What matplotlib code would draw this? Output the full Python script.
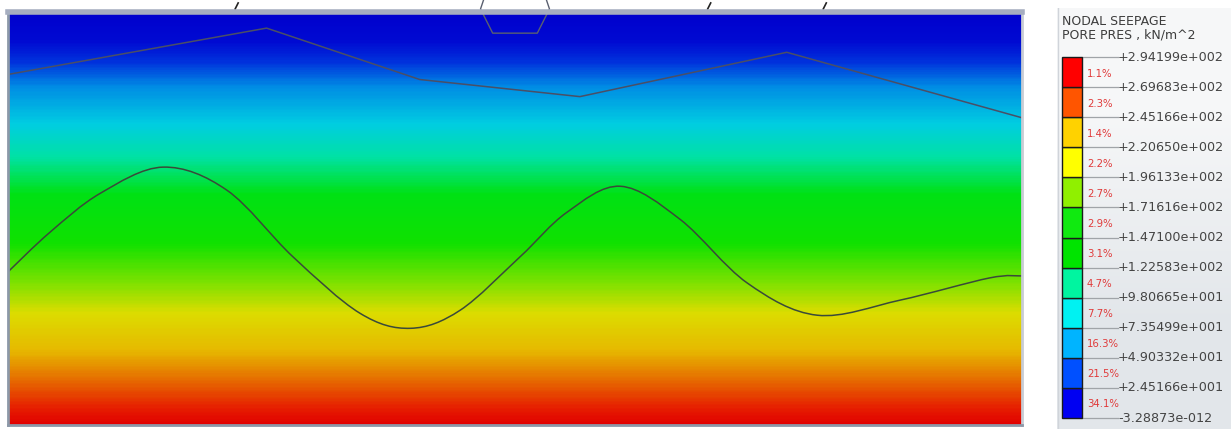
import numpy as np
import matplotlib
matplotlib.use("Agg")
import matplotlib.pyplot as plt
from matplotlib.colors import LinearSegmentedColormap
from matplotlib.path import Path
from matplotlib.patches import PathPatch

# --- datos ---
# perfil de presion de poro (kN/m^2) vs elevacion (m), campo horizontal
elev_profile = [0.0, 10.0, 20.0, 30.0, 41.0]
pres_profile = [294.2, 222.4, 150.7, 78.9, 0.0]

# limite superior (poligonal) x, elevacion
upper_x = [0.0, 25.5, 40.6, 56.4, 76.8, 100.0]
upper_e = [34.8, 39.4, 34.3, 32.6, 37.0, 30.5]

# limite ondulado
wave_x = [0.0, 4.1, 9.1, 15.3, 21.6, 28.1, 34.7, 39.7, 44.6, 50.5, 55.1, 60.4,
          66.3, 72.9, 79.8, 88.0, 96.8, 100.0]
wave_e = [15.2, 19.1, 23.0, 25.6, 23.3, 16.7, 11.1, 9.6, 11.4, 16.7, 21.1, 23.7,
          20.4, 14.1, 10.9, 12.4, 14.6, 14.8]

# pieza en la parte superior
notch_x = [46.9, 46.6, 47.8, 52.2, 53.4, 53.1]
notch_e = [42.2, 41.3, 38.9, 38.9, 41.3, 42.2]

# leyenda
level_labels = ["-3.28873e-012", "+2.45166e+001", "+4.90332e+001", "+7.35499e+001",
                "+9.80665e+001", "+1.22583e+002", "+1.47100e+002", "+1.71616e+002",
                "+1.96133e+002", "+2.20650e+002", "+2.45166e+002", "+2.69683e+002",
                "+2.94199e+002"]
band_pct = ["34.1%", "21.5%", "16.3%", "7.7%", "4.7%", "3.1%", "2.9%", "2.7%",
            "2.2%", "1.4%", "2.3%", "1.1%"]
band_colors = ["#0000F2", "#0050FF", "#00B4FF", "#00F2F2", "#00F5A0", "#00E400",
               "#10EA10", "#90F000", "#FFFF00", "#FFD200", "#FF5500", "#FF0000"]

# colores del campo (suavizado, algo mas oscuro que la leyenda)
field_nodes = [(0.00, (0, 0, 205)), (0.07, (0, 10, 210)), (0.12, (0, 50, 220)),
               (0.18, (0, 140, 228)), (0.27, (0, 205, 225)), (0.35, (0, 225, 165)),
               (0.44, (0, 225, 20)), (0.56, (15, 225, 0)), (0.66, (130, 225, 0)),
               (0.73, (220, 220, 0)), (0.82, (230, 185, 0)), (0.89, (230, 110, 0)),
               (0.96, (230, 30, 0)), (1.00, (225, 0, 0))]
field_cmap = LinearSegmentedColormap.from_list(
    "campo", [(f, tuple(c / 255 for c in rgb)) for f, rgb in field_nodes])


def smooth_path(xs, ys):
    """Curva suave (Bezier) que pasa por los puntos leidos."""
    pts = np.column_stack([xs, ys])
    n = len(pts)
    verts = [pts[0]]
    codes = [Path.MOVETO]
    for i in range(n - 1):
        p0 = pts[max(i - 1, 0)]
        p1 = pts[i]
        p2 = pts[i + 1]
        p3 = pts[min(i + 2, n - 1)]
        verts += [p1 + (p2 - p0) / 6, p2 - (p3 - p1) / 6, p2]
        codes += [Path.CURVE4] * 3
    return Path(verts, codes)


W, H = 1231, 429
fig = plt.figure(figsize=(W / 100, H / 100), dpi=100)

# --- dominio principal ---
ax = fig.add_axes([8 / W, (H - 425) / H, 1014 / W, 413 / H])
P = np.outer(pres_profile, [1.0, 1.0])
ax.contourf([0.0, 100.0], elev_profile, P, levels=300, cmap=field_cmap,
            vmin=0, vmax=294.2)
ax.plot(upper_x, upper_e, color="#4a4f66", lw=1.1)
ax.add_patch(PathPatch(smooth_path(wave_x, wave_e), facecolor="none",
                       edgecolor="#3a4a3a", lw=1.1))
ax.plot(notch_x, notch_e, color="#5a6070", lw=1.0, clip_on=False)
# marcas pequenas fuera del dominio
for mx in (22.4, 69.0, 80.4):
    ax.plot([mx, mx + 0.3], [41.3, 41.9], color="#222222", lw=1.2, clip_on=False)
ax.set_xlim(0, 100)
ax.set_ylim(0, 41)
ax.set_xticks([])
ax.set_yticks([])
for side, sp in ax.spines.items():
    sp.set_color("#8c98a8")
    sp.set_linewidth(2)
ax.spines["top"].set_linewidth(4)
ax.spines["top"].set_color("#a6aec0")
ax.spines["right"].set_color("#c8ccd4")

# --- leyenda ---
lax = fig.add_axes([1057 / W, 0, (W - 1057) / W, (H - 8) / H])
px_unit = 30.08
y_lo, y_hi = -11 / px_unit, (418 - 8) / px_unit
lax.set_xlim(1057, W)
lax.set_ylim(y_lo, y_hi)
lax.axis("off")
bg = LinearSegmentedColormap.from_list("fondo", ["#e2e6ea", "#f6f7f8"])
lax.imshow(np.array([[0.0], [1.0]]), cmap=bg, aspect="auto", origin="lower",
           interpolation="bilinear", extent=[1057, W, y_lo, y_hi], zorder=0)
lax.plot([1057.5, 1057.5], [y_lo, y_hi], color="#d0d4da", lw=1, zorder=1)

lax.text(1062, (418 - 22) / px_unit, "NODAL SEEPAGE", fontsize=9, color="#3c3c3c",
         va="center", ha="left")
lax.text(1062, (418 - 35) / px_unit, "PORE PRES , kN/m^2", fontsize=9,
         color="#3c3c3c", va="center", ha="left")

n_bands = len(band_colors)
lax.bar([1072] * n_bands, [1] * n_bands, bottom=np.arange(n_bands), width=20,
        color=band_colors, edgecolor="#1a1a1a", linewidth=1, align="center", zorder=2)
for i, lab in enumerate(level_labels):
    lax.plot([1082, 1118], [i, i], color="#a0a4a8", lw=0.9, zorder=1)
    lax.text(1118, i, lab, fontsize=9.2, color="#444444", va="center", ha="left")
for i, pct in enumerate(band_pct):
    lax.text(1087, i + 0.45, pct, fontsize=7.3, color="#e03a3a", va="center", ha="left")

fig.savefig("out.png", dpi=100)
